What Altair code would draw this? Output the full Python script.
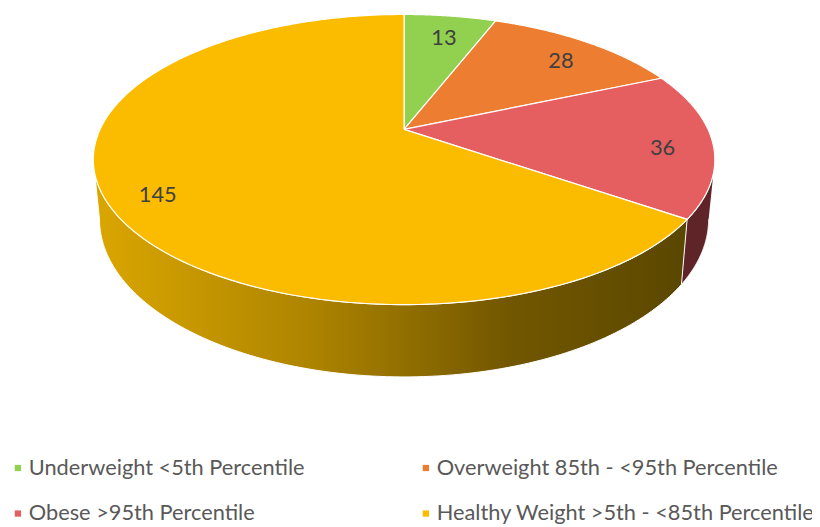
import altair as alt
import pandas as pd

# ---- data ----
categories = [
    "Underweight <5th Percentile",
    "Overweight 85th - <95th Percentile",
    "Obese >95th Percentile",
    "Healthy Weight >5th - <85th Percentile",
]
values = [13, 28, 36, 145]
top_colors = ["#92D050", "#ED7D31", "#E55F61", "#FBBC00"]
side_colors = ["#4E7A22", "#7A3D12", "#5E2428", "#8A6A00"]

# ---- geometry (chart coords, y downward) ----
W, H = 812, 519
CX, CY, A, B, K, DEP = 400, 120, 307, 140.2, 0.208, 57.8
N = 160   # points per top slice arc
M = 120   # points per side edge
F = 0.84  # label radius fraction

df = pd.DataFrame({"category": categories, "value": values, "rank": list(range(len(values)))})

xs = alt.Scale(domain=[0, W], range=[0, W], nice=False, zero=False)
ys = alt.Scale(domain=[0, H], range=[0, H], nice=False, zero=False)

base = (
    alt.Chart(df)
    .transform_window(cum="sum(value)", sort=[alt.SortField("rank")], frame=[None, 0])
    .transform_joinaggregate(total="sum(value)")
    .transform_calculate(a0="2*PI*(datum.cum - datum.value)/datum.total")
    .transform_calculate(a1="2*PI*datum.cum/datum.total")
)

# ---- top faces ----
top = (
    base.transform_calculate(idx=f"sequence(0, {N + 3})")
    .transform_flatten(["idx"])
    .transform_calculate(t=f"datum.a0 + (datum.a1 - datum.a0)*(datum.idx - 1)/{N}")
    .transform_calculate(ap=f"datum.idx == 0 || datum.idx == {N + 2}")
    .transform_calculate(u="datum.ap ? 0 : sin(datum.t)")
    .transform_calculate(v="datum.ap ? 0 : cos(datum.t)")
    .transform_calculate(px=f"{CX} + {A}*datum.u/(1 + {K}*datum.v)")
    .transform_calculate(py=f"{CY} - {B}*datum.v/(1 + {K}*datum.v)")
    .mark_line(filled=True, stroke="white", strokeWidth=1.2, strokeJoin="round")
    .encode(
        x=alt.X("px:Q", scale=xs, axis=None),
        y=alt.Y("py:Q", scale=ys, axis=None),
        color=alt.Color(
            "category:N",
            scale=alt.Scale(domain=categories, range=top_colors),
            sort=categories,
            legend=alt.Legend(
                orient="none", legendX=-1, legendY=451, columns=2,
                direction="horizontal",
                symbolType="square", symbolSize=40, symbolStrokeWidth=0,
                labelFont="Lato", labelFontSize=22, labelColor="#595959",
                labelOffset=0, columnPadding=111, rowPadding=24,
                title=None, labelLimit=0,
            ),
        ),
        order=alt.Order("idx:Q"),
    )
)

# ---- sides ----
side_base = (
    base.transform_calculate(s0=f"max(datum.a0, acos(-{K}))")
    .transform_calculate(s1=f"min(datum.a1, 2*PI - acos(-{K}))")
    .transform_filter("datum.s1 > datum.s0")
    .transform_calculate(idx=f"sequence(0, {2 * M + 2})")
    .transform_flatten(["idx"])
    .transform_calculate(h=f"datum.idx <= {M} ? 0 : 1")
    .transform_calculate(fr=f"datum.idx <= {M} ? datum.idx/{M} : ({2 * M + 1} - datum.idx)/{M}")
    .transform_calculate(t="datum.s0 + (datum.s1 - datum.s0)*datum.fr")
    .transform_calculate(u="sin(datum.t)")
    .transform_calculate(v="cos(datum.t)")
    .transform_calculate(px=f"{CX} + {A}*datum.u*(1 - 0.02*datum.h)/(1 + {K}*datum.v)")
    .transform_calculate(py=f"{CY} + ({DEP}*datum.h - {B}*datum.v)/(1 + {K}*datum.v)")
)

big = categories[values.index(max(values))]

side_grad = (
    side_base.transform_filter(alt.datum.category == big)
    .mark_line(
        fill=alt.Gradient(
            gradient="linear",
            stops=[
                alt.GradientStop(color="#DAA600", offset=0),
                alt.GradientStop(color="#B08600", offset=0.35),
                alt.GradientStop(color="#725700", offset=0.7),
                alt.GradientStop(color="#5A4700", offset=1),
            ],
            x1=0, x2=1, y1=0, y2=0,
        ),
        stroke="white", strokeWidth=1, strokeJoin="round",
    )
    .encode(
        x=alt.X("px:Q", scale=xs, axis=None),
        y=alt.Y("py:Q", scale=ys, axis=None),
        order=alt.Order("idx:Q"),
    )
)

side_other = (
    side_base.transform_filter(alt.datum.category != big)
    .mark_line(stroke="white", strokeWidth=1, strokeJoin="round")
    .encode(
        x=alt.X("px:Q", scale=xs, axis=None),
        y=alt.Y("py:Q", scale=ys, axis=None),
        fill=alt.Fill("category:N", scale=alt.Scale(domain=categories, range=side_colors), legend=None),
        detail="category:N",
        order=alt.Order("idx:Q"),
    )
)

# ---- labels ----
labels = (
    base.transform_calculate(m="(datum.a0 + datum.a1)/2")
    .transform_calculate(lu=f"{F}*sin(datum.m)")
    .transform_calculate(lv=f"{F}*cos(datum.m)")
    .transform_calculate(px=f"{CX} + {A}*datum.lu/(1 + {K}*datum.lv)")
    .transform_calculate(py=f"{CY} - {B}*datum.lv/(1 + {K}*datum.lv)")
    .mark_text(font="Lato", fontSize=22, color="#404040", dy=7)
    .encode(
        x=alt.X("px:Q", scale=xs, axis=None),
        y=alt.Y("py:Q", scale=ys, axis=None),
        text="value:Q",
    )
)

chart = (
    alt.layer(side_grad, side_other, top, labels)
    .resolve_scale(fill="independent")
    .properties(width=W, height=H, autosize=alt.AutoSizeParams(type="none"), padding=0, background="white")
    .configure_view(stroke=None)
)

chart.save("out.html", embed_options={"renderer": "svg", "actions": False})
